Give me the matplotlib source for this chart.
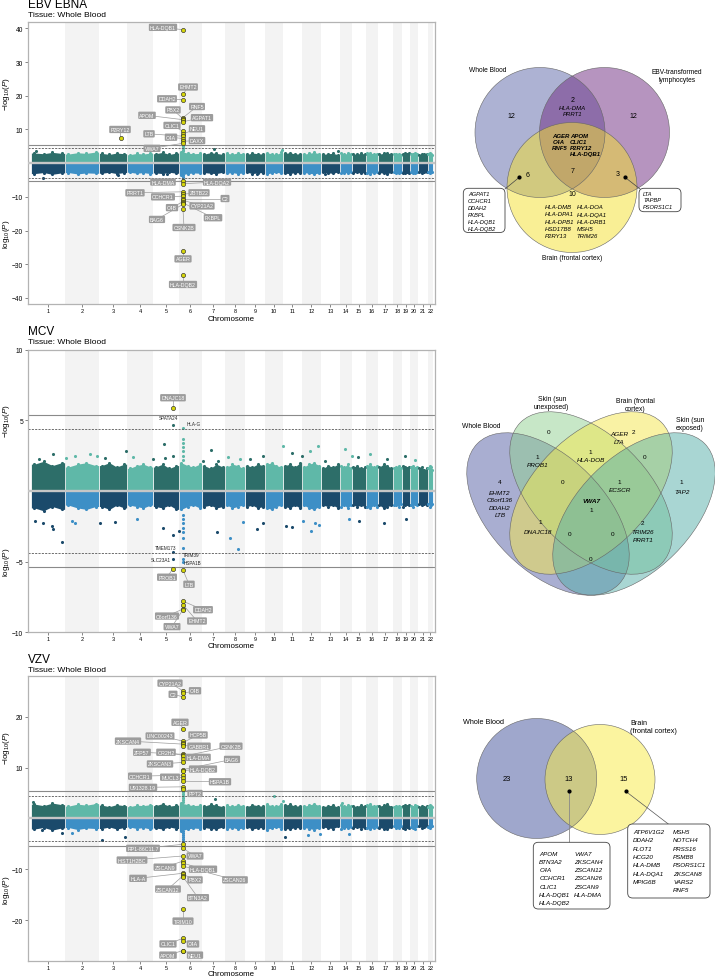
import numpy as np
import matplotlib.pyplot as plt
from matplotlib.patches import Circle, Ellipse, FancyBboxPatch
from matplotlib.transforms import blended_transform_factory

plt.rcParams['font.family'] = ['Liberation Sans', 'DejaVu Sans']
plt.rcParams['mathtext.fontset'] = 'custom'
plt.rcParams['mathtext.rm'] = 'Liberation Sans'
plt.rcParams['mathtext.it'] = 'Liberation Sans:italic'

W, H = 715, 978

# ---------------- data ----------------
chroms = [str(i) for i in range(1, 23)]
chrom_len = [34, 34, 28, 26, 26, 23, 23, 20, 20, 18, 19, 19, 19, 12, 14, 12, 15, 9, 8, 8, 10, 5]

# dense part of the cloud: 4 heights per chromosome (up = -log10P, dn = log10P)
ebv_env_up = [[3.0, 2.8, 3.2, 2.9], [2.7, 3.1, 2.9, 3.3], [2.9, 2.6, 3.0, 2.8], [2.5, 2.9, 2.7, 3.0],
              [2.8, 3.2, 2.6, 3.0], [3.4, 3.0, 2.8, 2.9], [2.7, 3.1, 2.9, 2.6], [2.9, 2.7, 3.0, 2.8],
              [2.6, 3.0, 2.8, 2.7], [3.1, 2.8, 2.6, 3.2], [2.9, 3.1, 2.7, 2.8], [2.7, 2.9, 3.2, 2.8],
              [2.6, 2.8, 2.9, 2.5], [3.0, 2.7, 2.9, 2.8], [2.8, 2.6, 3.0, 2.7], [2.9, 3.1, 2.7, 2.8],
              [2.7, 2.9, 3.1, 2.6], [2.6, 2.8, 2.7, 2.5], [2.8, 3.0, 2.7, 2.9], [2.7, 2.6, 2.9, 2.8],
              [2.5, 2.8, 2.6, 2.7], [2.6, 2.9, 2.7, 2.5]]
ebv_env_dn = [[-3.1, -2.8, -3.3, -2.9], [-2.8, -3.2, -2.9, -3.0], [-3.0, -2.7, -3.1, -2.8], [-2.7, -3.0, -2.8, -3.1],
              [-2.9, -3.1, -2.7, -3.0], [-3.5, -3.1, -2.9, -3.0], [-2.8, -3.0, -3.1, -2.7], [-3.0, -2.8, -3.1, -2.9],
              [-2.7, -3.1, -2.9, -2.8], [-3.2, -2.9, -2.7, -3.0], [-3.0, -3.1, -2.8, -2.9], [-2.8, -3.0, -3.2, -2.9],
              [-2.7, -2.9, -3.0, -2.6], [-3.0, -2.8, -2.9, -2.7], [-2.9, -2.7, -3.0, -2.8], [-2.9, -3.1, -2.8, -2.7],
              [-2.8, -3.0, -3.1, -2.7], [-2.6, -2.9, -2.8, -2.6], [-2.8, -3.0, -2.7, -2.9], [-2.7, -2.8, -3.0, -2.6],
              [-2.6, -2.8, -2.7, -2.6], [-2.7, -2.9, -2.6, -2.5]]
# scattered points outside the cloud: (chromosome, position, value)
ebv_bg = [(1, 4.7, 3.6), (7, 12.3, 4.25), (10, 17, 3.9), (13, 16.7, 3.6),
          (6, 4, 3.5), (6, 4, 4.0), (6, 4, 4.5), (6, 4, 5.0), (6, 4, 5.4),
          (1, 12.3, -4.35), (3, 19.3, -3.4), (5, 13.7, -3.35), (9, 11.7, -3.2), (13, 4, -3.3),
          (6, 4, -3.6), (6, 4, -4.1), (6, 4, -4.6), (6, 4, -5.0)]
ebv_hits = [("HLA-DQB1", 6, 4, 39.6), ("EHMT2", 6, 4, 20.4), ("DDAH2", 6, 4, 18.8),
            ("RNF5", 6, 4, 13.5), ("PBX2", 6, 4, 13.2), ("APOM", 6, 4, 12.9), ("AGPAT1", 6, 4, 12.3),
            ("CLIC1", 6, 4, 9.5), ("NEU1", 6, 4, 8.7), ("LTB", 6, 4, 8.0), ("C4A", 6, 4, 7.3),
            ("DAXX", 6, 4, 6.5), ("VWA7", 6, 4, 5.9), ("P2RY12", 3, 21.7, 7.5),
            ("HLA-DMA", 6, 4, -5.3), ("HLA-DQA2", 6, 4, -6.1), ("PRRT1", 6, 4, -8.5),
            ("ZBTB22", 6, 4, -9.2), ("CCHCR1", 6, 4, -9.8), ("C2", 6, 4, -10.5),
            ("CYP21A2", 6, 4, -11.0), ("C4B", 6, 4, -11.4), ("FKBPL", 6, 4, -11.8),
            ("BAG6", 6, 4, -12.2), ("CSNK2B", 6, 4, -13.7), ("AGER", 6, 4, -26.0),
            ("HLA-DQB2", 6, 4, -33.3)]

mcv_env_up = [[1.9, 2.1, 1.8, 2.0], [1.7, 1.9, 2.0, 1.8], [1.8, 2.0, 1.7, 1.9], [1.6, 1.8, 1.9, 1.7],
              [1.7, 1.9, 1.6, 1.8], [2.0, 1.8, 1.7, 1.9], [1.8, 1.6, 1.9, 1.7], [1.7, 1.9, 1.8, 1.6],
              [1.8, 1.7, 1.9, 1.8], [1.9, 2.0, 1.8, 1.7], [1.8, 1.9, 1.7, 2.0], [1.7, 1.9, 2.0, 1.8],
              [1.6, 1.8, 1.7, 1.9], [1.8, 1.7, 1.9, 1.6], [1.7, 1.8, 1.6, 1.7], [1.8, 1.9, 1.7, 1.8],
              [1.7, 1.9, 1.8, 1.6], [1.6, 1.7, 1.8, 1.6], [1.8, 1.7, 1.6, 1.7], [1.7, 1.8, 1.6, 1.7],
              [1.6, 1.7, 1.5, 1.6], [1.6, 1.8, 1.7, 1.5]]
mcv_env_dn = [[-1.2, -1.4, -1.1, -1.3], [-1.0, -1.2, -1.3, -1.1], [-1.1, -1.3, -1.0, -1.2], [-1.0, -1.1, -1.2, -1.0],
              [-1.1, -1.2, -1.0, -1.3], [-1.3, -1.1, -1.0, -1.2], [-1.1, -1.0, -1.2, -1.1], [-1.0, -1.2, -1.1, -1.0],
              [-1.1, -1.0, -1.2, -1.1], [-1.2, -1.3, -1.1, -1.0], [-1.1, -1.2, -1.0, -1.2], [-1.0, -1.2, -1.3, -1.1],
              [-1.0, -1.1, -1.0, -1.2], [-1.1, -1.0, -1.2, -1.0], [-1.0, -1.1, -1.0, -1.1], [-1.1, -1.2, -1.0, -1.1],
              [-1.0, -1.2, -1.1, -1.0], [-1.0, -1.0, -1.1, -0.9], [-1.1, -1.0, -0.9, -1.0], [-1.0, -1.1, -0.9, -1.0],
              [-0.9, -1.0, -0.9, -1.0], [-0.9, -1.1, -1.0, -0.9]]
mcv_bg = [(1, 22.3, 2.6), (1, 8, 2.3), (2, 0.5, 2.35), (2, 10, 2.5), (2, 25, 2.6), (2, 31.7, 2.45),
          (3, 6, 2.35), (3, 27, 2.8), (4, 5.7, 2.4), (5, 0.3, 2.3), (5, 10.7, 3.3), (5, 11.7, 2.35),
          (5, 20, 2.45), (7, 1.3, 2.15), (7, 8.7, 2.9), (7, 16.3, 2.1), (8, 3.3, 2.4), (8, 15, 2.3),
          (9, 5, 2.3), (9, 18.3, 2.5), (10, 17.5, 3.15), (11, 9.3, 2.7), (11, 18.7, 2.45),
          (12, 8, 2.8), (12, 15.7, 3.15), (13, 4, 2.1), (14, 5, 2.95), (14, 11.7, 2.5),
          (15, 6, 2.4), (16, 4, 2.6), (17, 9, 2.3), (19, 3, 2.5), (20, 5, 2.2),
          (6, 4, 3.7), (6, 4, 3.4), (6, 4, 3.1), (6, 4, 2.8), (6, 4, 2.5), (6, 4, 2.2),
          (1, 4, -2.13), (1, 12.3, -2.3), (1, 20.7, -2.5), (1, 22.3, -2.7), (1, 30.7, -3.6),
          (2, 6.7, -2.1), (2, 10, -2.25), (3, 1, -2.3), (3, 16, -2.2), (4, 10.3, -2.0),
          (5, 10.3, -2.6), (5, 20, -3.1), (5, 25.8, -2.85), (7, 15, -2.9), (8, 5, -3.3),
          (8, 13, -4.1), (8, 17.7, -2.2), (9, 11.7, -2.7), (9, 18.3, -2.3), (11, 3, -2.45),
          (11, 9.3, -2.55), (12, 1.3, -2.15), (12, 8.7, -2.85), (12, 13, -2.3), (12, 17.3, -2.4),
          (14, 9.3, -2.0), (15, 7, -2.1), (17, 6, -2.3), (19, 4, -2.0),
          (6, 4, -1.7), (6, 4, -2.0), (6, 4, -2.3), (6, 4, -2.6), (6, 4, -2.9), (6, 4, -3.3), (6, 4, -4.0)]
mcv_hits = [("DNAJC18", 5, 20, 5.9), ("PROB1", 5, 20, -5.5), ("LTB", 6, 4, -5.6),
            ("DDAH2", 6, 4, -7.8), ("EHMT2", 6, 4, -8.05), ("C6orf136", 6, 4, -8.35), ("VWA7", 6, 4, -8.4)]
mcv_near = [("SPATA24", 5, 20, 4.7), ("HLA-G", 6, 4, 4.45), ("TMEM173", 5, 20, -4.3),
            ("SLC23A1", 5, 20, -4.8), ("TRIM39", 6, 4, -4.8), ("HSPA1B", 6, 4, -5.05)]

vzv_env_up = [[2.8, 2.5, 3.0, 2.7], [2.4, 2.8, 2.6, 2.9], [2.6, 2.3, 2.7, 2.5], [2.3, 2.6, 2.5, 2.7],
              [2.5, 2.9, 2.4, 2.6], [3.0, 2.7, 2.5, 2.6], [2.4, 2.8, 2.6, 2.3], [2.6, 2.4, 2.7, 2.5],
              [2.3, 2.7, 2.5, 2.4], [2.8, 2.5, 2.4, 2.9], [2.6, 2.8, 2.4, 2.5], [2.4, 2.6, 2.9, 2.5],
              [2.3, 2.5, 2.6, 2.2], [2.7, 2.4, 2.6, 2.5], [2.5, 2.3, 2.7, 2.4], [2.6, 2.8, 2.4, 2.5],
              [2.4, 2.6, 2.8, 2.3], [2.3, 2.5, 2.4, 2.2], [2.5, 2.7, 2.4, 2.6], [2.4, 2.3, 2.6, 2.5],
              [2.2, 2.5, 2.3, 2.4], [2.3, 2.6, 2.4, 2.2]]
vzv_env_dn = [[-2.1, -1.8, -2.3, -1.9], [-1.8, -2.2, -1.9, -2.0], [-2.0, -1.7, -2.1, -1.8], [-1.7, -2.0, -1.8, -2.1],
              [-1.9, -2.1, -1.7, -2.0], [-2.4, -2.1, -1.9, -2.0], [-1.8, -2.0, -2.1, -1.7], [-2.0, -1.8, -2.1, -1.9],
              [-1.7, -2.1, -1.9, -1.8], [-2.2, -1.9, -1.7, -2.0], [-2.0, -2.1, -1.8, -1.9], [-1.8, -2.0, -2.2, -1.9],
              [-1.7, -1.9, -2.0, -1.6], [-2.0, -1.8, -1.9, -1.7], [-1.9, -1.7, -2.0, -1.8], [-1.9, -2.1, -1.8, -1.7],
              [-1.8, -2.0, -2.1, -1.7], [-1.6, -1.9, -1.8, -1.6], [-1.8, -2.0, -1.7, -1.9], [-1.7, -1.8, -2.0, -1.6],
              [-1.6, -1.8, -1.7, -1.6], [-1.7, -1.9, -1.6, -1.5]]
vzv_bg = [(1, 2.3, 3.3), (2, 30, 2.6), (7, 13, 3.9), (10, 9, 4.4), (10, 17.5, 3.5), (14, 1.7, 3.0),
          (6, 4, 3.2), (6, 4, 3.6), (6, 4, 4.0), (6, 4, 4.4), (6, 4, 4.8), (6, 4, 5.2),
          (1, 10.7, -2.3), (1, 30.7, -2.9), (2, 6.7, -2.9), (3, 2.7, -4.2), (3, 26, -3.7),
          (11, 2, -3.7), (12, 6.3, -3.3), (12, 18, -3.0), (14, 9.3, -3.0),
          (6, 4, -2.4), (6, 4, -2.8), (6, 4, -3.2), (6, 4, -3.6), (6, 4, -4.0), (6, 4, -4.4), (6, 4, -4.8)]
vzv_hits = [("CYP21A2", 6, 4, 25.1), ("C4B", 6, 4, 24.6), ("C2", 6, 4, 23.9), ("AGER", 6, 4, 17.5),
            ("LINC00243", 6, 4, 15.2), ("HCP5B", 6, 4, 14.9), ("ZKSCAN4", 6, 4, 14.6), ("GABBR1", 6, 4, 14.3),
            ("ZFP57", 6, 4, 12.6), ("OR2H2", 6, 4, 12.4), ("CSNK2B", 6, 4, 12.2), ("HLA-DMA", 6, 4, 11.7),
            ("ZKSCAN3", 6, 4, 11.0), ("BAG6", 6, 4, 9.6), ("HLA-DQB2", 6, 4, 9.4), ("CCHCR1", 6, 4, 8.5),
            ("MUCL3", 6, 4, 8.0), ("HSPA1B", 6, 4, 7.3), ("U91328.19", 6, 4, 6.2), ("PPT2", 6, 4, 5.8),
            ("RP1-86C11.7", 6, 4, -5.1), ("VWA7", 6, 4, -5.9), ("HIST1H2BC", 6, 4, -7.4),
            ("ZSCAN9", 6, 4, -8.4), ("HLA-DQB1", 6, 4, -8.8), ("ZSCAN26", 6, 4, -9.4), ("HLA-A", 6, 4, -10.8),
            ("PBX2", 6, 4, -11.0), ("ZSCAN12", 6, 4, -11.3), ("BTN3A2", 6, 4, -11.5), ("TRIM10", 6, 4, -17.9),
            ("CLIC1", 6, 4, -23.6), ("C4A", 6, 4, -24.1), ("APOM", 6, 4, -26.0), ("NEU1", 6, 4, -26.0)]

# Venn diagrams
venn1_sets = ["Whole Blood", "EBV-transformed\nlymphocytes", "Brain (frontal cortex)"]
venn1_counts = [12, 12, 10, 2, 6, 3, 7]  # WB, EBV, Brain, WB&EBV, WB&Brain, EBV&Brain, all
venn1_wb_ebv = ["HLA-DMA", "PRRT1"]
venn1_all_a = ["AGER", "C4A", "RNF5"]
venn1_all_b = ["APOM", "CLIC1", "P2RY12", "HLA-DQB1"]
venn1_wb_brain = ["AGPAT1", "CCHCR1", "DDAH2", "FKBPL", "HLA-DQB1", "HLA-DQB2"]
venn1_ebv_brain = ["LTA", "TAPBP", "PSORS1C1"]
venn1_brain_a = ["HLA-DMB", "HLA-DPA1", "HLA-DPB1", "HSD17B8", "P2RY13"]
venn1_brain_b = ["HLA-DOA", "HLA-DQA1", "HLA-DRB1", "MSH5", "TRIM26"]

venn2_sets = ["Whole Blood", "Skin (sun\nunexposed)", "Brain (frontal\ncortex)", "Skin (sun\nexposed)"]
venn2_regions = {"WB": (4, ["EHMT2", "C6orf136", "DDAH2", "LTB"]), "SU": (0, []), "BR": (2, ["AGER", "LTA"]),
                 "SE": (1, ["TAP2"]), "WB_SU": (1, ["PROB1"]), "SU_BR": (1, ["HLA-DOB"]), "BR_SE": (0, []),
                 "WB_SU_BR": (0, []), "SU_BR_SE": (1, ["ECSCR"]), "ALL": (1, ["VWA7"]),
                 "WB_BR": (1, ["DNAJC18"]), "SU_SE": (2, ["TRIM26", "PRRT1"]),
                 "WB_BR_SE": (0, []), "WB_SU_SE": (0, []), "WB_SE": (0, [])}

venn3_sets = ["Whole Blood", "Brain\n(frontal cortex)"]
venn3_counts = [23, 13, 15]
venn3_shared_a = ["APOM", "BTN3A2", "C4A", "CCHCR1", "CLIC1", "HLA-DQB1", "HLA-DQB2"]
venn3_shared_b = ["VWA7", "ZKSCAN4", "ZSCAN12", "ZSCAN26", "ZSCAN9", "HLA-DMA"]
venn3_brain_a = ["ATP6V1G2", "DDAH2", "FLOT1", "HCG20", "HLA-DMB", "HLA-DQA1", "MPIG6B"]
venn3_brain_b = ["MSH5", "NOTCH4", "PRSS16", "PSMB8", "PSORS1C1", "ZKSCAN8", "VARS2", "RNF5"]

# ---------------- layout / style ----------------
C_UP = ['#2d6e69', '#5fb8a8']
C_DN = ['#1b4a6b', '#3d8fc6']
HIT_FC = '#d6d60a'
LAB_FC = '#9c9c9c'

ebv_labpos = {"HLA-DQB1": (132, 40.3), "EHMT2": (157, 22.6), "DDAH2": (136, 19.1), "PBX2": (142, 15.8),
              "RNF5": (166, 16.8), "APOM": (116, 14.2), "AGPAT1": (171, 13.5), "CLIC1": (141, 11.2),
              "NEU1": (166, 10.2), "LTB": (118, 8.7), "C4A": (140, 7.7), "DAXX": (166, 6.7),
              "VWA7": (121, 4.4), "P2RY12": (89, 10.0), "HLA-DMA": (132, -5.6), "HLA-DQA2": (186, -5.6),
              "PRRT1": (104, -8.8), "ZBTB22": (168, -8.8), "CCHCR1": (132, -10.0), "C2": (194, -10.5),
              "CYP21A2": (171, -12.7), "C4B": (141, -13.2), "FKBPL": (182, -16.2), "BAG6": (126, -16.7),
              "CSNK2B": (153, -19.1), "AGER": (152, -28.4), "HLA-DQB2": (152, -36.0)}
mcv_labpos = {"DNAJC18": (142, 6.6), "PROB1": (136, -6.1), "LTB": (158, -6.6), "DDAH2": (172, -8.4),
              "EHMT2": (166, -9.2), "C6orf136": (136, -8.85), "VWA7": (141, -9.6)}
mcv_nearpos = {"SPATA24": (137, 5.17, 'center'), "HLA-G": (156, 4.8, 'left'), "TMEM173": (145, -3.97, 'right'),
               "SLC23A1": (140, -4.84, 'right'), "TRIM39": (152, -4.5, 'left'), "HSPA1B": (153, -5.07, 'left')}
vzv_labpos = {"CYP21A2": (139, 26.6), "C4B": (164, 25.1), "C2": (142, 24.4), "AGER": (149, 18.9),
              "LINC00243": (129, 16.2), "HCP5B": (167, 16.4), "ZKSCAN4": (97, 15.2), "GABBR1": (168, 14.2),
              "CSNK2B": (200, 14.2), "ZFP57": (111, 13.0), "OR2H2": (135, 13.0), "HLA-DMA": (167, 12.0),
              "ZKSCAN3": (129, 10.7), "BAG6": (201, 11.6), "HLA-DQB2": (172, 9.7), "CCHCR1": (109, 8.3),
              "MUCL3": (139, 8.1), "HSPA1B": (189, 7.2), "U91328.19": (112, 6.1), "PPT2": (164, 4.9),
              "RP1-86C11.7": (112, -5.9), "VWA7": (164, -7.4), "HIST1H2BC": (101, -8.2), "ZSCAN9": (134, -9.6),
              "HLA-DQB1": (172, -10.0), "HLA-A": (107, -11.8), "PBX2": (164, -12.1), "ZSCAN26": (204, -12.1),
              "ZSCAN12": (137, -13.9), "BTN3A2": (167, -15.6), "TRIM10": (152, -20.2), "CLIC1": (137, -24.7),
              "C4A": (162, -24.7), "APOM": (137, -26.9), "NEU1": (164, -26.9)}

starts = np.concatenate([[0], np.cumsum(chrom_len)[:-1]])
centers = starts + np.array(chrom_len) / 2.0


def gx(c, p):
    return starts[c - 1] + p


def manhattan(rect, title, env_up, env_dn, bg, hits, labpos, ylim, yticks, near=None, nearpos=None, title_y=(0, 0),
              xlab_y=0):
    ax = fig.add_axes(rect)
    for i in range(22):
        s, L = starts[i], chrom_len[i]
        if i % 2 == 1:
            ax.axvspan(s, s + L, color='#f3f3f3', lw=0, zorder=0)
        xs = s + L * np.array([0.1, 0.37, 0.63, 0.9])
        xf = np.concatenate([[s + 0.4], xs, [s + L - 0.4]])
        for env, cols in ((env_up[i], C_UP), (env_dn[i], C_DN)):
            yf = np.concatenate([[env[0]], env, [env[-1]]])
            ax.fill_between(xf, 0, yf, color=cols[i % 2], lw=0, zorder=1)
            ax.scatter(xs, env, s=5, color=cols[i % 2], lw=0, zorder=1)
    for c, p, v in bg:
        cols = C_UP if v > 0 else C_DN
        ax.scatter(gx(c, p), v, s=5, color=cols[(c - 1) % 2], lw=0, zorder=2)
    if near:
        for g, c, p, v in near:
            cols = C_UP if v > 0 else C_DN
            ax.scatter(gx(c, p), v, s=5, color=cols[(c - 1) % 2], lw=0, zorder=2)
            lx, ly, ha = nearpos[g]
            ax.text(lx, ly, g, fontsize=3.3, ha=ha, va='center', color='#222222', zorder=6)
    ax.axhline(0, color='#c6c6c6', lw=1.7, zorder=3)
    for s in (1, -1):
        ax.axhline(5.4 * s, color='#8a8a8a', lw=0.8, zorder=2)
        ax.axhline(4.4 * s, color='#555555', lw=0.6, ls=(0, (2.5, 1.5)), zorder=2)
    for g, c, p, v in hits:
        x = gx(c, p)
        lx, ly = labpos[g]
        ax.plot([x, lx], [v, ly], color=LAB_FC, lw=0.5, zorder=4)
        ax.text(lx, ly, g, fontsize=3.8, color='white', ha='center', va='center', zorder=6,
                bbox=dict(boxstyle='round,pad=0.22,rounding_size=0.2', fc=LAB_FC, ec='none'))
    ax.scatter([gx(c, p) for _, c, p, _ in hits], [v for *_, v in hits], s=9, color=HIT_FC,
               edgecolor='#2a2a2a', lw=0.45, zorder=5)
    ax.set_xlim(-3, sum(chrom_len) + 2)
    ax.set_ylim(*ylim)
    ax.set_xticks(centers)
    ax.set_xticklabels(chroms, fontsize=4)
    ax.set_yticks(yticks)
    ax.tick_params(axis='y', labelsize=4.8, length=2.2, width=0.5, color='#555555', pad=1.2)
    ax.tick_params(axis='x', length=1.8, width=0.5, color='#555555', pad=1.2)
    for sp in ax.spines.values():
        sp.set_color('#b3b3b3')
        sp.set_linewidth(0.9)
    tr = blended_transform_factory(ax.transAxes, ax.transData)
    ax.text(-0.054, ylim[1] / 2, r'$-\mathrm{log}_{10}(\mathit{P})$', transform=tr, rotation=90,
            ha='center', va='center', fontsize=5.8)
    ax.text(-0.054, ylim[0] / 2, r'$\mathrm{log}_{10}(\mathit{P})$', transform=tr, rotation=90,
            ha='center', va='center', fontsize=5.8)
    fig.text(28 / W, 1 - title_y[0] / H, title, fontsize=8.5, ha='left', va='center')
    fig.text(28 / W, 1 - title_y[1] / H, "Tissue: Whole Blood", fontsize=6.1, ha='left', va='center')
    fig.text(231.5 / W, 1 - xlab_y / H, "Chromosome", fontsize=5.7, ha='center', va='center')
    return ax


def px_rect(l, t, r, b):
    return [l / W, 1 - b / H, (r - l) / W, (b - t) / H]


fig = plt.figure(figsize=(W / 100, H / 100), dpi=100)

manhattan(px_rect(28, 23.3, 435, 305), "EBV EBNA", ebv_env_up, ebv_env_dn, ebv_bg, ebv_hits, ebv_labpos,
          (-41.8, 41.8), [-40, -30, -20, -10, 10, 20, 30, 40], title_y=(5.5, 15.5), xlab_y=320)
manhattan(px_rect(28, 350.7, 435, 633.3), "MCV", mcv_env_up, mcv_env_dn, mcv_bg, mcv_hits, mcv_labpos,
          (-10, 10), [-10, -5, 5, 10], near=mcv_near, nearpos=mcv_nearpos, title_y=(331.7, 342.7), xlab_y=647)
manhattan(px_rect(28, 677, 435, 961.7), "VZV", vzv_env_up, vzv_env_dn, vzv_bg, vzv_hits, vzv_labpos,
          (-28, 28), [-20, -10, 10, 20], title_y=(660, 671), xlab_y=974.5)

# ---------------- Venn diagrams (pixel coordinates) ----------------
vax = fig.add_axes([0, 0, 1, 1])
vax.set_xlim(0, W)
vax.set_ylim(H, 0)
vax.axis('off')


def shape(p, fc):
    vax.add_patch(p)
    p.set_facecolor(fc)
    p.set_alpha(0.5)
    p.set_edgecolor('none')


def outline(p):
    p.set_facecolor('none')
    p.set_edgecolor('#666666')
    p.set_linewidth(0.4)
    vax.add_patch(p)


def glist(x, y0, genes, dy, ha='left', bold=False, fs=4.3):
    for k, g in enumerate(genes):
        vax.text(x, y0 + k * dy, g, fontsize=fs, style='italic', ha=ha, va='center',
                 weight='bold' if bold else 'normal')


def box(x0, y0, x1, y1):
    vax.add_patch(FancyBboxPatch((x0, y0), x1 - x0, y1 - y0, boxstyle='round,pad=0,rounding_size=5',
                                 fc='white', ec='#444444', lw=0.6, zorder=3))


# Venn 1
v1c = [(540, 133.5), (604.5, 133.5), (572, 188.5)]
v1col = ['#5d67a9', '#6e2a80', '#f5e12d']
for (cx, cy), col in zip(v1c, v1col):
    shape(Circle((cx, cy), 65), col)
for cx, cy in v1c:
    outline(Circle((cx, cy), 65))
vax.text(488, 70.7, venn1_sets[0], fontsize=4.8, ha='center', va='center')
vax.text(677, 76.5, venn1_sets[1], fontsize=4.8, ha='center', va='center', linespacing=1.25)
vax.text(572, 258.3, venn1_sets[2], fontsize=4.8, ha='center', va='center')
for (x, y), n in zip([(511.7, 116.7), (633.3, 116.7), (572.3, 195), (572.3, 101), (527.7, 175.3),
                      (617.3, 175), (572.3, 171.7)], venn1_counts):
    vax.text(x, y, str(n), fontsize=5, ha='center', va='center')
glist(572.3, 108.3, venn1_wb_ebv, 6.0, ha='center')
glist(552.3, 136, venn1_all_a, 6.3, bold=True)
glist(570, 136, venn1_all_b, 6.3, bold=True)
glist(545, 207.7, venn1_brain_a, 7.3)
glist(576.7, 207.7, venn1_brain_b, 7.3)
box(463.3, 189.3, 505, 233.5)
glist(468, 194.2, venn1_wb_brain, 7.0, fs=4.1)
box(639, 189.3, 681, 212.7)
glist(643.3, 194.2, venn1_ebv_brain, 6.8, fs=4.1)
vax.plot([519.3, 505], [178.3, 190], color='#444444', lw=0.5)
vax.plot([625, 640], [178.3, 190], color='#444444', lw=0.5)
vax.scatter([519.3, 625], [178.3, 178.3], s=4, color='black', zorder=4)

# Venn 2
v2e = [((548, 515), 45), ((591, 494), 45), ((591, 494), -45), ((634, 515), -45)]
v2col = ['#555fa5', '#91d191', '#f5e74b', '#55afa9']
for ((cx, cy), ang), col in zip(v2e, v2col):
    shape(Ellipse((cx, cy), 199.5, 114, angle=ang), col)
for (cx, cy), ang in v2e:
    outline(Ellipse((cx, cy), 199.5, 114, angle=ang))
vax.text(481.7, 426, venn2_sets[0], fontsize=4.9, ha='center', va='center')
vax.text(551.7, 403.7, venn2_sets[1], fontsize=4.9, ha='center', va='center', linespacing=1.2)
vax.text(635, 405.8, venn2_sets[2], fontsize=4.9, ha='center', va='center', linespacing=1.2)
vax.text(690, 424.5, venn2_sets[3], fontsize=4.9, ha='center', va='center', linespacing=1.2)
v2pos = {"WB": (500, 482.3), "SU": (548.3, 432.3), "BR": (633.3, 432.3), "SE": (681.7, 482.3),
         "WB_SU": (537.3, 457.7), "SU_BR": (590.7, 452.7), "BR_SE": (645, 457.7),
         "WB_SU_BR": (562.7, 482.3), "SU_BR_SE": (619.3, 482.3), "ALL": (591, 510.7),
         "WB_BR": (540, 522.7), "SU_SE": (642.3, 523.3), "WB_BR_SE": (570, 534),
         "WB_SU_SE": (612.7, 534), "WB_SE": (591, 559.3)}
v2gene = {"WB": (500, 493.3), "BR": (619.3, 435), "SE": (681.7, 492.7), "WB_SU": (537.3, 465.7),
          "SU_BR": (591, 460.7), "SU_BR_SE": (620, 490.7), "ALL": (591, 501.7), "WB_BR": (538.3, 532.7),
          "SU_SE": (642.7, 532.7)}
for key, (n, genes) in venn2_regions.items():
    x, y = v2pos[key]
    vax.text(x, y, str(n), fontsize=4.6, ha='center', va='center')
    if genes:
        gx0, gy0 = v2gene[key]
        glist(gx0, gy0, genes, 7.4, ha='center', bold=(key == "ALL"), fs=4.6)

# Venn 3
shape(Circle((536.7, 779.5), 60), '#41519b')
shape(Circle((600, 780.5), 55), '#f9eb41')
outline(Circle((536.7, 779.5), 60))
outline(Circle((600, 780.5), 55))
vax.text(483.3, 722.7, venn3_sets[0], fontsize=5.2, ha='center', va='center')
vax.text(630, 727.5, venn3_sets[1], fontsize=5.2, ha='left', va='center', linespacing=1.25)
for (x, y), n in zip([(506.7, 779.3), (568.3, 779.3), (623.3, 779.3)], venn3_counts):
    vax.text(x, y, str(n), fontsize=5.4, ha='center', va='center')
box(533.3, 843.3, 610, 910)
glist(539.3, 854, venn3_shared_a, 8.3, fs=4.5)
glist(574, 854, venn3_shared_b, 8.3, fs=4.5)
box(627.7, 825, 710, 899)
glist(633.3, 832.7, venn3_brain_a, 8.3, fs=4.5)
glist(673.3, 832.7, venn3_brain_b, 8.3, fs=4.5)
vax.plot([569, 569], [792.3, 843.3], color='#888888', lw=0.6)
vax.plot([625.7, 668.3], [792.3, 825], color='#555555', lw=0.5)
vax.scatter([569, 625.7], [792.3, 792.3], s=4, color='black', zorder=4)

fig.savefig('out.png', dpi=100)
